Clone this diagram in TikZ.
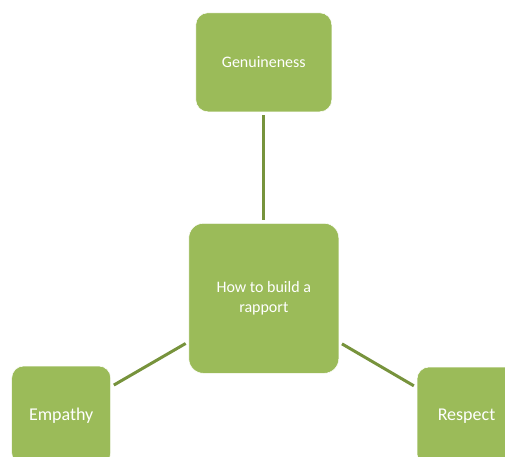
\documentclass[tikz,border=0pt]{standalone}
\usepackage{fontspec}
\setmainfont{Carlito}
\definecolor{boxgreen}{HTML}{9BBB59}
\definecolor{linegreen}{HTML}{77933C}
\tikzset{
  gbox/.style={fill=boxgreen, draw=white, line width=0.4pt, rounded corners=9pt, inner sep=0pt,
    text=white, align=center, font=\fontsize{12}{14.6}\selectfont},
  bigfont/.style={font=\fontsize{13.5}{16}\selectfont},
  link/.style={draw=linegreen, line width=2.25pt, shorten <=2.5pt, shorten >=2.5pt}
}
\begin{document}
\begin{tikzpicture}[x=0.75pt,y=-0.75pt]
\useasboundingbox (0,0) rectangle (505,456);
\clip (0,0) rectangle (505,456);
\node[gbox, minimum width=102pt, minimum height=74.25pt] (gen) at (263.8,62.3) {Genuineness};
\node[gbox, minimum width=112.5pt, minimum height=112.5pt, rounded corners=11pt] (main) at (263.8,298.3) {How to build a\\rapport};
\node[gbox, bigfont, minimum width=74.25pt, minimum height=74.25pt] (emp) at (61.2,415.5) {Empathy};
\node[gbox, bigfont, minimum width=74.25pt, minimum height=74.25pt] (res) at (466.5,416.5) {Respect};
\draw[link] (gen) -- (main);
\draw[link] (main) -- (emp);
\draw[link] (main) -- (res);
\end{tikzpicture}
\end{document}
